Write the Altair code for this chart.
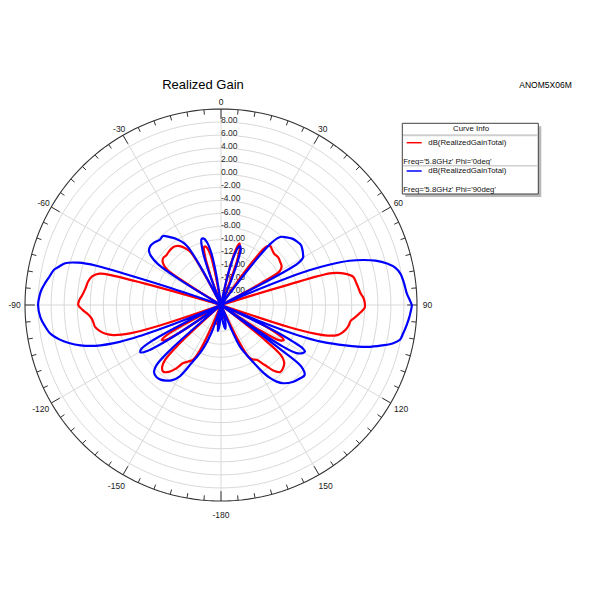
import altair as alt
import pandas as pd
import numpy as np

# ---- data: Phi=90deg (blue) ----
blue_theta = [-180, -176, -173, -170, -166,
              -164, -161, -158, -155.5, -153, -150, -147, -144, -141, -138, -135, -133, -131.5, -130,
              -128,
              -125, -123.5, -122, -120.5, -119, -117.5, -116, -115,
              -113, -112, -111, -110, -108, -106, -104, -102, -99.5, -97, -94, -90, -87, -85, -83, -81,
              -79.4, -78, -76.5, -75, -73.5, -72.5, -72, -71.3, -70.5,
              -60, -58.5, -57, -55, -53, -50, -47, -43, -40, -37, -34, -31, -29.5, -28, -27,
              -21.5, -20, -18.5, -16.5, -14.5, -12.5, -10.5, -9, -7.5,
              0,
              11.5, 13, 15, 16.5, 18, 19.5, 21, 22.5, 24,
              36, 37.5, 39, 41, 44, 47, 50, 53, 55.5, 58, 60, 61.5, 62.5, 63.5,
              66.5, 67.5, 68.5, 69.5, 71, 72.5, 74, 76, 78, 80, 83, 86.5, 88.5, 90, 92, 94, 96, 99, 101,
              102.5, 104, 106, 108, 110, 111.5, 112.5, 113.5,
              114.5, 115.5, 117, 118, 119, 120.5, 122.5, 124, 125,
              126, 126.7, 127.5, 130, 133, 137, 141.5, 144, 146, 148, 150, 153, 155.5, 157, 158.5,
              165, 170, 175, 180]
blue_db = [-20, -17, -16, -18, -20,
           -20, -15.5, -13, -11.5, -10, -7.4, -6.3, -5.7, -5.3, -5.2, -5.5, -6.5, -10, -20,
           -20,
           -20, -11, -6.8, -5.7, -6.0, -8, -14, -20,
           -20, -12, -7, -3.5, 0.2, 2.4, 4.0, 5.3, 6.5, 7.1, 7.7, 8.0, 7.8, 7.55, 7.15, 6.7,
           6.4, 6.1, 5.4, 4.7, 2.8, 0, -5, -12, -20,
           -20, -13, -8.5, -6.9, -6.2, -5.9, -6.0, -6.3, -6.2, -7.0, -7.8, -8.9, -10, -14, -20,
           -20, -14, -11, -9.5, -9.5, -10.2, -12, -15, -20,
           -20,
           -20, -15, -12, -10.8, -10.5, -11, -13, -16, -20,
           -20, -13, -7.8, -6.2, -5.6, -5.1, -4.85, -4.7, -4.9, -5.2, -5.5, -6.5, -10, -20,
           -20, -12, -5.5, -2.5, 0.8, 2.9, 4.6, 6.2, 7.3, 7.85, 8.2, 8.5, 8.9, 9.2, 9.05, 8.85, 8.6, 8.2, 7.9,
           7.0, 5.5, 3.3, 0.0, -3.5, -7.5, -12, -20,
           -20, -12, -7.5, -5.8, -5.3, -5.5, -6.3, -9, -20,
           -20, -8, -4.5, -3.3, -3.5, -3.9, -4.7, -5.5, -6.5, -7.8, -9.5, -11.5, -13, -16, -20,
           -17.5, -16.3, -18, -20]

# ---- data: Phi=0deg (red) ----
red_theta = [-180, -170, -165, -162,
             -157.5, -155.5, -153, -150, -147, -144.5, -142, -139, -136.5, -134.5, -133, -132,
             -125, -123.5, -122, -120.5, -119, -118, -117,
             -110, -108.5, -107.3, -105.6, -104, -102, -100, -98, -96, -94, -92, -90, -88, -86, -83, -80,
             -77.5, -75.5, -74.8, -74.2, -73.5,
             -59, -58, -56.5, -54, -51, -48, -45, -41, -38, -35, -32, -30, -28.5, -27.5,
             -21, -19.5, -18, -16, -14, -12, -10.5, -9,
             0,
             11, 13, 15, 16.5, 18, 20, 22,
             34, 36, 38, 40, 43, 46, 50, 54, 57.5, 60, 61.5, 62.5,
             72, 73.2, 74, 76, 78, 81, 83, 85, 87, 89, 91, 93, 95, 97, 99, 101, 103, 104.5, 106, 107, 108, 109.5,
             113, 115, 117, 119, 121, 123, 124.5,
             127, 128.5, 130, 132, 135, 138.5, 141, 144, 147, 150, 152, 154, 156,
             165, 170, 180]
red_db = [-20, -20, -17, -20,
          -20, -13, -10.6, -10, -9.4, -8.0, -7.0, -6.5, -6.9, -8, -11, -20,
          -20, -12, -9.8, -9.5, -10.5, -13, -20,
          -20, -10, -5.4, -2.9, -1.8, -1.0, -0.45, -0.3, -0.1, 0.4, 1.2, 1.85, 1.7, 1.3, 0.9, 0.65,
          0.2, -0.8, -3, -9, -20,
          -20, -14, -10, -9.0, -8.6, -8.7, -8.6, -8.5, -8.6, -9.0, -9.8, -10.6, -13, -20,
          -20, -15, -12, -10.7, -10.9, -12, -15, -20,
          -20,
          -20, -15, -11.2, -10.2, -10.6, -13, -20,
          -20, -12, -8.6, -8.25, -8.5, -8.7, -8.6, -8.8, -9.0, -9.6, -13, -20,
          -20, -10, -2.3, -0.3, 0.7, 1.0, 1.2, 1.4, 1.8, 2.0, 2.0, 1.4, 0.7, 0.0, -0.2, -0.5, -1.0, -1.6, -3, -5, -9, -20,
          -20, -14, -10.5, -9.0, -9.5, -13, -20,
          -20, -12, -8, -7.0, -6.5, -6.3, -7.0, -8.7, -10, -10.4, -11, -14, -20,
          -20, -18, -20]

series_names = ["Phi='0deg'", "Phi='90deg'"]
series_colors = ["#ff0000", "#0000ff"]

ring_db = [-18, -16, -14, -12, -10, -8, -6, -4, -2, 0, 2, 4, 6, 8]
ring_labels = ["-18.00", "-16.00", "-14.00", "-12.00", "-10.00", "-8.00", "-6.00", "-4.00",
               "-2.00", "0.00", "2.00", "4.00", "6.00", "8.00"]
angle_ticks = [0, 30, 60, 90, 120, 150, 180, -150, -120, -90, -60, -30]
angle_labels = ["0", "30", "60", "90", "120", "150", "-180", "-150", "-120", "-90", "-60", "-30"]

R_MIN = -20.0
R_MAX = 10.0
RMAX = R_MAX - R_MIN  # 30

FONT = "Liberation Sans"

# ---- tables ----
curves = pd.concat([
    pd.DataFrame({"series": series_names[0], "theta": red_theta, "db": red_db, "i": range(len(red_theta))}),
    pd.DataFrame({"series": series_names[1], "theta": blue_theta, "db": blue_db, "i": range(len(blue_theta))}),
])

ring_angles = np.arange(0, 362, 2)
rings = pd.DataFrame([(d, a) for d in ring_db + [R_MAX] for a in ring_angles], columns=["db", "a"])

tick_angles = [a for a in range(-175, 185, 5)]
ticks = pd.DataFrame({"a": tick_angles,
                      "len": [1.5 if a % 30 == 0 else 0.75 for a in tick_angles]})

X = alt.Scale(domain=[-RMAX, RMAX], nice=False, zero=False)
Y = alt.Scale(domain=[-RMAX, RMAX], nice=False, zero=False)

def pos(expr_r, expr_a, fx, fy):
    return {fx: f"({expr_r}) * sin(({expr_a}) * PI / 180)",
            fy: f"({expr_r}) * cos(({expr_a}) * PI / 180)"}

# grid rings
grid = alt.Chart(rings).transform_filter(alt.datum.db < R_MAX).transform_calculate(
    **pos(f"datum.db - ({R_MIN})", "datum.a", "x", "y")
).mark_line(color="#d9d9d9", strokeWidth=1).encode(
    x=alt.X("x:Q", scale=X, axis=None),
    y=alt.Y("y:Q", scale=Y, axis=None),
    detail="db:N", order="a:Q")

outer = alt.Chart(rings).transform_filter(alt.datum.db == R_MAX).transform_calculate(
    **pos(f"datum.db - ({R_MIN})", "datum.a", "x", "y")
).mark_line(color="#333333", strokeWidth=1.1).encode(
    x=alt.X("x:Q", scale=X, axis=None),
    y=alt.Y("y:Q", scale=Y, axis=None),
    order="a:Q")

spokes = alt.Chart(pd.DataFrame({"a": angle_ticks})).transform_calculate(
    zero="0", **pos(str(RMAX), "datum.a", "x2", "y2")
).mark_rule(color="#d9d9d9", strokeWidth=1).encode(
    x=alt.X("zero:Q", scale=X, axis=None), y=alt.Y("zero:Q", scale=Y, axis=None),
    x2="x2:Q", y2="y2:Q")

tickmarks = alt.Chart(ticks).transform_calculate(
    **pos(str(RMAX), "datum.a", "x1", "y1")
).transform_calculate(
    **pos(f"{RMAX} - datum.len", "datum.a", "x2", "y2")
).mark_rule(color="#333333", strokeWidth=1).encode(
    x=alt.X("x1:Q", scale=X, axis=None), y=alt.Y("y1:Q", scale=Y, axis=None),
    x2="x2:Q", y2="y2:Q")

alabels = alt.Chart(pd.DataFrame({"a": angle_ticks, "t": angle_labels})).transform_calculate(
    lr=f"{RMAX + 1.6} - 0.5 * cos(datum.a * PI / 180)"
).transform_calculate(
    **pos("datum.lr", "datum.a", "x", "y")
).mark_text(font=FONT, fontSize=8.5, color="#1a1a1a", align="center", baseline="middle").encode(
    x=alt.X("x:Q", scale=X, axis=None), y=alt.Y("y:Q", scale=Y, axis=None), text="t:N")

rlabels = alt.Chart(pd.DataFrame({"db": ring_db, "t": ring_labels})).transform_calculate(
    r=f"datum.db - ({R_MIN})", zero="0"
).mark_text(font=FONT, fontSize=8.5, color="#2a2a2a", align="left", baseline="middle", dy=-2).encode(
    x=alt.X("zero:Q", scale=X, axis=None), y=alt.Y("r:Q", scale=Y, axis=None), text="t:N")

lines = alt.Chart(curves).transform_calculate(
    **pos(f"max(datum.db - ({R_MIN}), 0)", "datum.theta", "x", "y")
).mark_line(strokeWidth=2.2, interpolate="catmull-rom", strokeJoin="round", strokeCap="round").encode(
    x=alt.X("x:Q", scale=X, axis=None),
    y=alt.Y("y:Q", scale=Y, axis=None),
    color=alt.Color("series:N", scale=alt.Scale(domain=series_names, range=series_colors), legend=None),
    order="i:Q")

# ---- annotations / legend box (pixel positions relative to plot origin) ----
one = pd.DataFrame({"k": [0]})

def txt(s, x, y, size=7.8, align="left", color="#111111"):
    return alt.Chart(one).mark_text(text=s, font=FONT, fontSize=size, align=align,
                                    baseline="middle", color=color).encode(
        x=alt.value(x), y=alt.value(y))

def hline(x1, x2, y, color, w):
    return alt.Chart(one).mark_rule(color=color, strokeWidth=w).encode(
        x=alt.value(x1), x2=alt.value(x2), y=alt.value(y))

def box(x1, x2, y1, y2, fill, stroke=None):
    kw = {"fill": fill}
    if stroke:
        kw.update(stroke=stroke, strokeWidth=1)
    return alt.Chart(one).mark_rect(**kw).encode(
        x=alt.value(x1), x2=alt.value(x2), y=alt.value(y1), y2=alt.value(y2))

legend = [
    box(380.3, 516.3, 17.3, 88, "#b8b8b8"),
    box(377.3, 513.3, 14.3, 85, "#ffffff", "#404040"),
    hline(378, 513, 26.3, "#cfcfcf", 2),
    txt("Curve Info", 446, 20.3, 7.8, "center"),
    hline(381.7, 396.7, 33.7, series_colors[0], 1.5),
    txt("dB(RealizedGainTotal)", 403.3, 33.7),
    txt("Freq='5.8GHz' " + series_names[0], 378.3, 52.7),
    hline(378, 513, 56.7, "#cfcfcf", 1.5),
    hline(381.7, 396.7, 62, series_colors[1], 1.5),
    txt("dB(RealizedGainTotal)", 403.3, 62),
    txt("Freq='5.8GHz' " + series_names[1], 378.3, 81),
]

titles = [
    txt("Realized Gain", 178, -24, 13, "center", "#000000"),
    txt("ANOM5X06M", 520.5, -24, 8.5, "center", "#000000"),
]

chart = alt.layer(grid, spokes, rlabels, outer, tickmarks, alabels, lines, *legend, *titles).properties(
    width=392, height=392,
    background="#ffffff",
    autosize=alt.AutoSizeParams(type="none"),
    padding={"left": 25, "top": 109, "right": 183, "bottom": 99},
).configure_view(strokeWidth=0, stroke="transparent")

chart.save("out.html", embed_options={"renderer": "svg", "actions": False})
